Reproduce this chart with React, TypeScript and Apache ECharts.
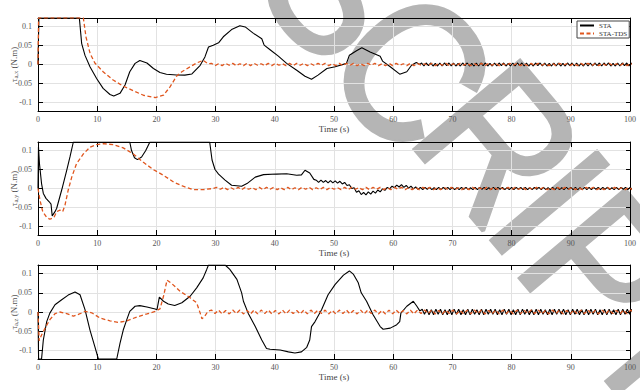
import React, { useEffect, useRef } from "react";
import * as echarts from "echarts";

// ---------- DATA (torque in N.m, time in s) ----------
// Panel 1: tau_a,x
const tauXSta: number[][] = [
  [0, 0], [0.15, 0.123], [6.98, 0.123], [7.38, 0.055], [7.94, 0.024], [8.78, -0.006], [9.9, -0.037],
  [11.0, -0.063], [12.16, -0.079], [12.8, -0.083], [13.85, -0.076], [14.7, -0.054], [15.5, -0.019],
  [16.4, 0.003], [17.2, 0.0105], [18.4, 0.004], [19.5, -0.0105], [20.6, -0.021], [21.7, -0.0255],
  [23.4, -0.0275], [24.8, -0.028], [26.0, -0.025], [27.4, -0.002], [28.2, 0.02], [28.8, 0.046],
  [29.6, 0.051], [30.5, 0.057], [31.3, 0.073], [32.7, 0.092], [34.1, 0.102], [35.0, 0.099],
  [36.4, 0.082], [37.8, 0.068], [38.2, 0.051], [39.2, 0.039], [40.6, 0.022], [42.0, 0.003],
  [43.7, -0.015], [45.1, -0.031], [46.2, -0.039], [47.3, -0.028], [48.8, -0.0105], [50.2, -0.006],
  [52.1, 0.003], [52.6, 0.0245], [53.8, 0.036], [54.7, 0.044], [56.1, 0.033], [57.8, 0.022],
  [58.2, 0.009], [59.5, -0.006], [61.1, -0.0255], [62.3, -0.019], [63.1, -0.002], [63.9, 0.005], [64.5, 0.0],
];
const tauXStaTailStart = 64.8;
const tauXStaTailStep = 0.385;
const tauXStaTailMilli = [
  4, -4, 4, -3, 4, -4, 3, -4, 4, -4,
  4, -3, 4, -4, 4, -4, 3, -4, 4, -3,
  4, -4, 3, -4, 4, -4, 4, -3, 4, -4,
  3, -4, 4, -4, 4, -3, 4, -4, 3, -4,
  4, -4, 4, -3, 4, -4, 4, -4, 3, -4,
  4, -3, 4, -4, 4, -4, 3, -4, 4, -4,
  4, -4, 3, -4, 4, -3, 4, -4, 4, -4,
  3, -4, 4, -4, 4, -4, 4, -3, 4, -4,
  4, -3, 4, -4, 3, -4, 4, -4, 4, -3,
  4, -4, 4, -4, 3, -4, 4, -4, 4, -4,
];
const tauXTds: number[][] = [
  [0, 0], [0.1, 0.123], [7.66, 0.123], [8.1, 0.073], [8.8, 0.029], [9.6, 0.004], [11.0, -0.019],
  [12.7, -0.041], [14.4, -0.057], [16.1, -0.069], [17.8, -0.081], [19.8, -0.087], [21.2, -0.081],
  [22.3, -0.059], [23.4, -0.031], [24.3, -0.019], [25.7, -0.006], [26.8, 0.004], [27.9, 0.011], [28.7, 0.002],
];
const tauXTdsTailStart = 29.3;
const tauXTdsTailStep = 0.6;
const tauXTdsTailMilli = [
  3, -3, 2, -3, 3, -2, 3, -3, 2, -3,
  3, -3, 3, -2, 2, -3, 3, -3, 3, -2,
  2, -3, 3, -3, 3, -2, 3, -3, 2, -3,
  3, -2, 3, -3, 2, -3, 3, -3, 3, -2,
  3, -3, 2, -3, 3, -2, 3, -3, 2, -3,
  3, -3, 3, -2, 2, -3, 3, -3, 3, -2,
  2, -3, 3, -3, 3, -2, 3, -3, 2, -3,
  3, -2, 3, -3, 2, -3, 3, -3, 3, -2,
  3, -3, 2, -3, 3, -2, 3, -3, 2, -3,
  3, -3, 3, -2, 2, -3, 3, -3, 3, -2,
  2, -3, 3, -3, 3, -2, 3, -3, 2, -3,
  3, -2, 3, -3, 2, -3, 3, -3, 3, -2,
];

// Panel 2: tau_a,y
const tauYSta: number[][] = [
  [0, 0], [0.08, 0.11], [0.25, 0.065], [0.6, 0.013], [0.9, -0.013], [1.35, -0.026], [1.9, -0.035],
  [2.2, -0.041], [2.4, -0.072], [2.87, -0.061], [3.16, -0.052], [4.0, -0.004], [4.85, 0.048],
  [5.4, 0.083], [5.97, 0.1225], [15.5, 0.1225], [15.8, 0.1], [16.3, 0.081], [16.8, 0.076],
  [17.5, 0.083], [18.2, 0.1], [18.9, 0.1225], [29.0, 0.1225], [29.4, 0.075], [29.9, 0.05],
  [30.5, 0.038], [31.6, 0.022], [32.7, 0.0086], [34.4, 0.006], [35.3, 0.013], [36.7, 0.03],
  [38.1, 0.0365], [40.3, 0.038], [42.0, 0.039], [43.7, 0.035], [44.5, 0.036], [45.1, 0.048],
  [45.9, 0.041], [46.6, 0.024], [47.0, 0.022], [47.4, 0.016], [47.8, 0.022], [48.2, 0.016],
  [48.6, 0.021], [49.0, 0.015], [49.4, 0.021], [49.8, 0.015], [50.2, 0.02], [50.6, 0.014],
  [51.0, 0.019], [51.4, 0.012], [51.8, 0.016], [52.2, 0.008], [52.6, 0.01], [53.0, 0.0],
  [53.4, 0.002], [53.8, -0.01], [54.2, -0.006], [54.6, -0.016], [55.0, -0.01], [55.4, -0.017],
  [55.8, -0.009], [56.2, -0.015], [56.6, -0.007], [57.0, -0.012], [57.4, -0.004], [57.8, -0.009],
  [58.2, -0.001], [58.6, -0.005], [59.0, 0.003], [59.4, -0.001], [59.8, 0.006], [60.2, 0.002],
  [60.6, 0.009], [61.0, 0.004], [61.4, 0.01], [61.8, 0.003], [62.2, 0.008], [62.6, 0.001],
  [63.0, 0.006], [63.4, -0.001], [63.8, 0.004], [64.2, -0.002],
];
const tauYStaTailStart = 64.6;
const tauYStaTailStep = 0.385;
const tauYStaTailMilli = [
  3, -3, 3, -2, 3, -3, 2, -3, 3, -3,
  3, -2, 3, -3, 3, -3, 2, -3, 3, -2,
  3, -3, 2, -3, 3, -3, 3, -2, 3, -3,
  2, -3, 3, -3, 3, -2, 3, -3, 2, -3,
  3, -3, 3, -2, 3, -3, 3, -3, 2, -3,
  3, -2, 3, -3, 3, -3, 2, -3, 3, -3,
  3, -3, 2, -3, 3, -2, 3, -3, 3, -3,
  2, -3, 3, -3, 3, -3, 3, -2, 3, -3,
  3, -2, 3, -3, 2, -3, 3, -3, 3, -2,
  3, -3, 3, -3, 2, -3, 3, -3, 3, -3,
];
const tauYTds: number[][] = [
  [0, 0], [0.34, -0.031], [0.8, -0.061], [1.47, -0.076], [2.0, -0.081], [2.7, -0.076], [3.16, -0.061],
  [3.7, -0.057], [4.17, -0.061], [4.56, -0.044], [5.1, -0.0045], [5.7, 0.03], [6.5, 0.065],
  [7.66, 0.091], [8.78, 0.109], [9.9, 0.1157], [11.0, 0.118], [12.7, 0.1157], [14.4, 0.107],
  [16.1, 0.091], [17.8, 0.069], [19.5, 0.0496], [21.2, 0.0347], [22.9, 0.017], [24.5, 0.006],
  [26.2, -0.003], [27.9, -0.003], [29.6, 0.0],
];
const tauYTdsTailStart = 30.2;
const tauYTdsTailStep = 0.6;
const tauYTdsTailMilli = [
  3, -2, 3, -3, 2, -3, 3, -3, 3, -2,
  2, -3, 3, -3, 3, -2, 3, -3, 2, -3,
  3, -3, 2, -3, 3, -2, 3, -3, 2, -3,
  3, -3, 3, -2, 2, -3, 3, -3, 3, -2,
  2, -3, 3, -3, 3, -2, 3, -3, 2, -3,
  3, -2, 3, -3, 2, -3, 3, -3, 3, -2,
  3, -3, 2, -3, 3, -2, 3, -3, 2, -3,
  3, -3, 3, -2, 2, -3, 3, -3, 3, -2,
  2, -3, 3, -3, 3, -2, 3, -3, 2, -3,
  3, -2, 3, -3, 2, -3, 3, -3, 3, -2,
  3, -3, 2, -3, 3, -2, 3, -3, 2, -3,
  3, -3, 3, -2, 2, -3, 3, -3, 3, -2,
];

// Panel 3: tau_a,z
const tauZSta: number[][] = [
  [0, 0], [0.1, -0.1225], [0.6, -0.1225], [0.9, -0.073], [1.47, -0.025], [2.0, -0.003], [2.87, 0.019],
  [4.0, 0.032], [5.1, 0.044], [6.25, 0.052], [7.1, 0.045], [7.94, 0.006], [8.78, -0.047], [9.6, -0.09],
  [10.2, -0.1225], [13.3, -0.1225], [13.85, -0.082], [14.4, -0.047], [15.0, -0.02], [15.5, 0.0016],
  [16.4, 0.015], [17.2, 0.0166], [18.4, 0.013], [19.8, 0.008], [20.1, 0.006], [20.5, 0.039],
  [21.2, 0.028], [22.0, 0.021], [23.1, 0.017], [24.3, 0.024], [25.7, 0.041], [26.8, 0.063],
  [27.9, 0.089], [28.5, 0.111], [28.8, 0.1225], [31.6, 0.1225], [32.4, 0.111], [33.6, 0.085],
  [34.4, 0.05], [34.7, 0.028], [35.5, -0.003], [36.7, -0.038], [37.8, -0.073], [38.6, -0.095],
  [39.2, -0.097], [40.9, -0.099], [42.3, -0.104], [43.4, -0.107], [44.5, -0.104], [45.4, -0.092],
  [45.9, -0.073], [46.2, -0.038], [46.8, -0.025], [47.9, 0.006], [49.0, 0.045], [50.2, 0.072],
  [51.6, 0.096], [52.6, 0.107], [53.3, 0.098], [54.1, 0.076], [54.6, 0.05], [55.5, 0.028],
  [56.6, -0.007], [57.8, -0.038], [58.3, -0.045], [59.5, -0.042], [60.6, -0.033], [61.1, -0.025],
  [61.3, -0.003], [62.3, 0.015], [63.4, 0.028], [64.0, 0.015], [64.5, 0.003],
];
const tauZStaTailStart = 64.9;
const tauZStaTailStep = 0.385;
const tauZStaTailMilli = [
  7, -6, 7, -7, 6, -7, 7, -6, 7, -7,
  6, -7, 7, -7, 7, -6, 7, -7, 6, -7,
  7, -7, 7, -6, 6, -7, 7, -7, 7, -6,
  7, -6, 7, -7, 6, -7, 7, -6, 7, -7,
  6, -7, 7, -7, 7, -6, 7, -7, 6, -7,
  7, -7, 7, -6, 6, -7, 7, -7, 7, -6,
  7, -6, 7, -7, 6, -7, 7, -6, 7, -7,
  6, -7, 7, -7, 7, -6, 7, -7, 6, -7,
  7, -7, 7, -6, 6, -7, 7, -7, 7, -6,
  7, -6, 7, -7, 6, -7, 7, -6, 7, -7,
];
const tauZTds: number[][] = [
  [0, 0], [0.2, -0.075], [0.6, -0.06], [1.2, -0.042], [2.0, -0.02], [2.87, -0.0045], [3.7, 0],
  [4.85, -0.004], [6.0, -0.011], [7.1, -0.0045], [7.94, 0.0016], [9.07, -0.002], [10.5, -0.016],
  [12.16, -0.023], [13.6, -0.027], [15.0, -0.023], [16.7, -0.013], [18.4, -0.005], [19.8, 0.0016],
  [20.6, 0.008], [21.2, 0.041], [21.8, 0.083], [22.6, 0.074], [24.0, 0.054], [25.7, 0.037],
  [26.8, 0.024], [27.4, -0.003], [27.7, -0.018], [28.2, -0.01], [28.7, 0.0016],
];
const tauZTdsTailStart = 29.3;
const tauZTdsTailStep = 0.6;
const tauZTdsTailMilli = [
  5, -4, 5, -5, 4, -5, 5, -4, 5, -5,
  4, -5, 5, -5, 5, -4, 5, -5, 4, -5,
  5, -5, 5, -4, 4, -5, 5, -5, 5, -4,
  5, -4, 5, -5, 4, -5, 5, -4, 5, -5,
  4, -5, 5, -5, 5, -4, 5, -5, 4, -5,
  5, -5, 5, -4, 4, -5, 5, -5, 5, -4,
  5, -4, 5, -5, 4, -5, 5, -4, 5, -5,
  4, -5, 5, -5, 5, -4, 5, -5, 4, -5,
  5, -5, 5, -4, 4, -5, 5, -5, 5, -4,
  5, -4, 5, -5, 4, -5, 5, -4, 5, -5,
  4, -5, 5, -5, 5, -4, 5, -5, 4, -5,
  5, -5, 5, -4, 4, -5, 5, -5, 5, -4,
];

const seriesNames = ["STA", "STA-TDS"];
const axisNames = ["{n|τ}{s|a,x}{n| (N.m)}", "{n|τ}{s|a,y}{n| (N.m)}", "{n|τ}{s|a,z}{n| (N.m)}"];
const xAxisName = "Time (s)";
const watermarkLetters = ["S", "C", "R", "I", "P", "T"];

// ---------- helpers ----------
function join(main: number[][], start: number, step: number, milli: number[]): number[][] {
  const pts = main.map((p) => [p[0], p[1]]);
  milli.forEach((m, i) => pts.push([+(start + i * step).toFixed(3), m / 1000]));
  return pts;
}

const FONT = "Liberation Serif";
const ORANGE = "#e0561e";

export default function App() {
  const ref = useRef<HTMLDivElement>(null);
  useEffect(() => {
    if (!ref.current) return;
    const chart = echarts.init(ref.current, null, { renderer: "svg" });

    const panels = [
      { sta: join(tauXSta, tauXStaTailStart, tauXStaTailStep, tauXStaTailMilli), tds: join(tauXTds, tauXTdsTailStart, tauXTdsTailStep, tauXTdsTailMilli) },
      { sta: join(tauYSta, tauYStaTailStart, tauYStaTailStep, tauYStaTailMilli), tds: join(tauYTds, tauYTdsTailStart, tauYTdsTailStep, tauYTdsTailMilli) },
      { sta: join(tauZSta, tauZStaTailStart, tauZStaTailStep, tauZStaTailMilli), tds: join(tauZTds, tauZTdsTailStart, tauZTdsTailStep, tauZTdsTailMilli) },
    ];
    const grids = [
      { left: 38, right: 10, top: 18, height: 93, outerBoundsMode: "none", containLabel: false },
      { left: 38, right: 10, top: 142, height: 93, outerBoundsMode: "none", containLabel: false },
      { left: 38, right: 10, top: 265, height: 94, outerBoundsMode: "none", containLabel: false },
    ];
    const YMIN = -0.1225;
    const YMAX = 0.1225;
    const black = { color: "#000", width: 1 };
    const xAxes: any[] = [];
    const yAxes: any[] = [];
    const series: any[] = [];
    panels.forEach((p, i) => {
      xAxes.push({
        gridIndex: i, type: "value", min: 0, max: 100, interval: 10, position: "bottom",
        axisLine: { onZero: false, lineStyle: black },
        axisTick: { inside: true, length: 5, lineStyle: black },
        axisLabel: { margin: 4, fontSize: 8, color: "#555", fontFamily: FONT },
        splitLine: { show: true, lineStyle: { color: "#e2e2e2", width: 1 } },
        name: xAxisName, nameLocation: "middle", nameGap: 13, nameMoveOverlap: false,
        nameTextStyle: { fontSize: 9, color: "#444", fontFamily: FONT },
      });
      xAxes.push({
        gridIndex: i, type: "value", min: 0, max: 100, interval: 10, position: "top",
        axisLine: { onZero: false, lineStyle: black },
        axisTick: { inside: true, length: 5, lineStyle: black },
        axisLabel: { show: false }, splitLine: { show: false },
      });
      yAxes.push({
        gridIndex: i, type: "value", min: YMIN, max: YMAX, splitNumber: 5, position: "left",
        axisLine: { show: true, onZero: false, lineStyle: black },
        axisTick: { show: true, inside: true, length: 5, lineStyle: black },
        axisLabel: { margin: 6, fontSize: 8, color: "#555", fontFamily: FONT, showMinLabel: false, showMaxLabel: false },
        splitLine: { show: true, lineStyle: { color: "#e2e2e2", width: 1 } },
        name: axisNames[i], nameLocation: "middle", nameGap: 19, nameMoveOverlap: false,
        nameTextStyle: {
          fontFamily: FONT, color: "#555", fontSize: 9,
          rich: {
            n: { fontFamily: FONT, color: "#555", fontSize: 9, lineHeight: 11 },
            s: { fontFamily: FONT, color: "#555", fontSize: 6.5, verticalAlign: "bottom", lineHeight: 11 },
          },
        },
      });
      yAxes.push({
        gridIndex: i, type: "value", min: YMIN, max: YMAX, splitNumber: 5, position: "right",
        axisLine: { show: true, onZero: false, lineStyle: black },
        axisTick: { show: true, inside: true, length: 4, lineStyle: black },
        axisLabel: { show: false }, splitLine: { show: false },
      });
      series.push({
        name: seriesNames[0], type: "line", xAxisIndex: 2 * i, yAxisIndex: 2 * i, data: p.sta,
        symbol: "none", lineStyle: { color: "#000", width: 1.1 }, itemStyle: { color: "#000" }, z: 3,
      });
      series.push({
        name: seriesNames[1], type: "line", xAxisIndex: 2 * i, yAxisIndex: 2 * i, data: p.tds,
        symbol: "none", lineStyle: { color: ORANGE, width: 1.3, type: [4, 2.5] }, itemStyle: { color: ORANGE }, z: 4,
      });
    });

    const wmPos = [
      [340, -16], [412, 70], [500, 143], [550, 202], [602, 268], [665, 343],
    ];
    const graphic = watermarkLetters.map((ch, i) => ({
      type: "text", x: wmPos[i][0], y: wmPos[i][1], rotation: (-50 * Math.PI) / 180,
      scaleX: 0.9, z: -10, silent: true,
      style: {
        text: ch, font: "200px 'Liberation Sans'", fill: "#b5b5b5", stroke: "#b5b5b5", lineWidth: 4,
        align: "center", verticalAlign: "middle",
      },
    }));

    chart.setOption({
      animation: false,
      backgroundColor: "#fff",
      grid: grids,
      xAxis: xAxes,
      yAxis: yAxes,
      series,
      graphic,
      legend: {
        data: seriesNames, left: 577, top: 21, orient: "vertical",
        itemWidth: 14, itemHeight: 7, itemGap: 1, padding: [1, 2, 1, 2],
        borderColor: "#444", borderWidth: 1, backgroundColor: "#fff",
        itemStyle: { opacity: 0 },
        textStyle: { fontSize: 7, fontFamily: FONT, color: "#333" },
      },
    });
    return () => chart.dispose();
  }, []);
  return <div ref={ref} style={{ position: "fixed", left: 0, top: 0, width: 640, height: 390 }} />;
}
